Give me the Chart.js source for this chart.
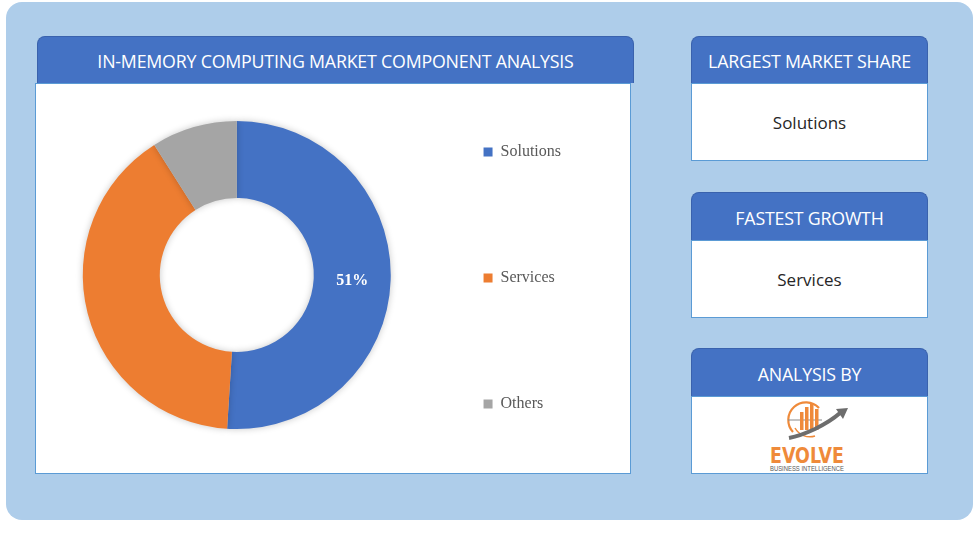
<!DOCTYPE html>
<html>
<head>
<meta charset="utf-8">
<script src="https://cdn.jsdelivr.net/npm/chart.js@4.4.1/dist/chart.umd.min.js"></script>
<style>
  html, body { margin: 0; padding: 0; background: #ffffff; }
  body { width: 975px; height: 549px; position: relative; overflow: hidden; font-family: "Open Sans", sans-serif; }
  .frame { position: absolute; left: 6px; top: 2px; width: 967px; height: 518px; background: #aecdea; border-radius: 16px; }
  .head { position: absolute; background: #4472c4; border: 1px solid #3a62ad; border-bottom: none;
          border-radius: 8px 8px 0 0; color: #ffffff; font-size: 17.8px; text-align: center; box-sizing: border-box;
          letter-spacing: -0.2px; }
  .box { position: absolute; background: #ffffff; border: 1px solid #5b9bd5; box-sizing: border-box;
         text-align: center; color: #262626; font-size: 17px; }
  #chartWrap { position: absolute; left: 36px; top: 25px; width: 594px; height: 500px; }
  .logo { position: absolute; left: 755px; top: 398px; width: 110px; height: 76px; }
</style>
</head>
<body>
<div class="frame"></div>

<div class="head" style="left:37px;top:36px;width:597px;height:47px;line-height:48px;">IN-MEMORY COMPUTING MARKET COMPONENT ANALYSIS</div>
<div class="box" style="left:35px;top:83px;width:596px;height:391px;"></div>

<div class="head" style="left:691px;top:36px;width:237px;height:47px;line-height:48px;">LARGEST MARKET SHARE</div>
<div class="box" style="left:691px;top:83px;width:237px;height:78px;line-height:78px;">Solutions</div>

<div class="head" style="left:691px;top:192px;width:237px;height:48px;line-height:50px;">FASTEST GROWTH</div>
<div class="box" style="left:691px;top:240px;width:237px;height:78px;line-height:78px;">Services</div>

<div class="head" style="left:691px;top:348px;width:237px;height:48px;line-height:50px;">ANALYSIS BY</div>
<div class="box" style="left:691px;top:396px;width:237px;height:78px;"></div>

<svg class="logo" viewBox="0 0 110 76">
  <path d="M38 34 A17 17 0 1 1 64 10" fill="none" stroke="#ef8a3a" stroke-width="2.2"/>
  <path d="M33 22 L67 22" stroke="#8a8a8a" stroke-width="1.2"/>
  <path d="M40 30 A17 17 0 0 0 60 38" fill="none" stroke="#ef8a3a" stroke-width="1.5"/>
  <rect x="45" y="14" width="3.5" height="18" fill="#ef8a3a"/>
  <rect x="50" y="9" width="3.5" height="23" fill="#ef8a3a"/>
  <rect x="55" y="5" width="3.5" height="27" fill="#ef8a3a"/>
  <rect x="60" y="11" width="3.5" height="21" fill="#ef8a3a"/>
  <path d="M34 40 Q45 38 60 31 Q76 23 85 15" fill="none" stroke="#6d6d6d" stroke-width="4"/>
  <path d="M81 11 L93 10 L88 21 Z" fill="#6d6d6d"/>
  <text x="52" y="65" text-anchor="middle" font-family="DejaVu Sans" font-weight="bold" font-size="21" fill="#ef8a3a" textLength="74" lengthAdjust="spacingAndGlyphs">EVOLVE</text>
  <text x="52" y="73" text-anchor="middle" font-family="Liberation Sans" font-size="7" fill="#595959" textLength="74" lengthAdjust="spacingAndGlyphs">BUSINESS INTELLIGENCE</text>
</svg>

<div id="chartWrap"><canvas id="componentChart"></canvas></div>

<script>
// -----------------------------
// DATA
// -----------------------------
const categories = ["Solutions", "Services", "Others"];
const shares = [51, 40, 9];
const sliceColors = ["#4472c4", "#ed7d31", "#a5a5a5"];
const shownLabels = ["51%", "", ""];

// -----------------------------
// PLUGINS
// -----------------------------
const ringShadow = {
    id: "ringShadow",
    beforeDatasetDraw(chart) {
        const ctx = chart.ctx;
        ctx.save();
        ctx.shadowColor = "rgba(0,0,0,0.22)";
        ctx.shadowBlur = 7;
    },
    afterDatasetDraw(chart) {
        chart.ctx.restore();
    }
};

const sliceLabels = {
    id: "sliceLabels",
    afterDatasetsDraw(chart) {
        const ctx = chart.ctx;
        const meta = chart.getDatasetMeta(0);
        ctx.save();
        ctx.fillStyle = "#ffffff";
        ctx.font = "bold 16px 'Liberation Serif', serif";
        ctx.textAlign = "center";
        ctx.textBaseline = "middle";
        meta.data.forEach((arc, i) => {
            if (!shownLabels[i]) return;
            const p = arc.tooltipPosition();
            ctx.fillText(shownLabels[i], p.x, p.y + 2);
        });
        ctx.restore();
    }
};

// -----------------------------
// CHART
// -----------------------------
function drawChart() {

    const ctx = document.getElementById("componentChart").getContext("2d");

    new Chart(ctx, {
        type: "doughnut",
        data: {
            labels: categories,
            datasets: [{
                data: shares,
                backgroundColor: sliceColors,
                borderWidth: 0,
                radius: 154,
                cutout: "50%"
            }]
        },
        options: {
            responsive: false,
            animation: false,
            layout: { padding: { left: 64, right: 59, top: 0 } },
            plugins: {
                tooltip: { enabled: false },
                legend: {
                    position: "right",
                    // empty title only nudges the items down a few pixels
                    title: { display: true, text: " ", font: { size: 1 }, padding: { top: 5, bottom: 0 } },
                    labels: {
                        boxWidth: 9,
                        boxHeight: 9,
                        padding: 110,
                        color: "#595959",
                        font: { family: "'Liberation Serif', serif", size: 16 }
                    }
                }
            }
        },
        plugins: [ringShadow, sliceLabels]
    });
}

const canvas = document.getElementById("componentChart");
canvas.width = 594;
canvas.height = 500;
drawChart();
</script>
</body>
</html>
